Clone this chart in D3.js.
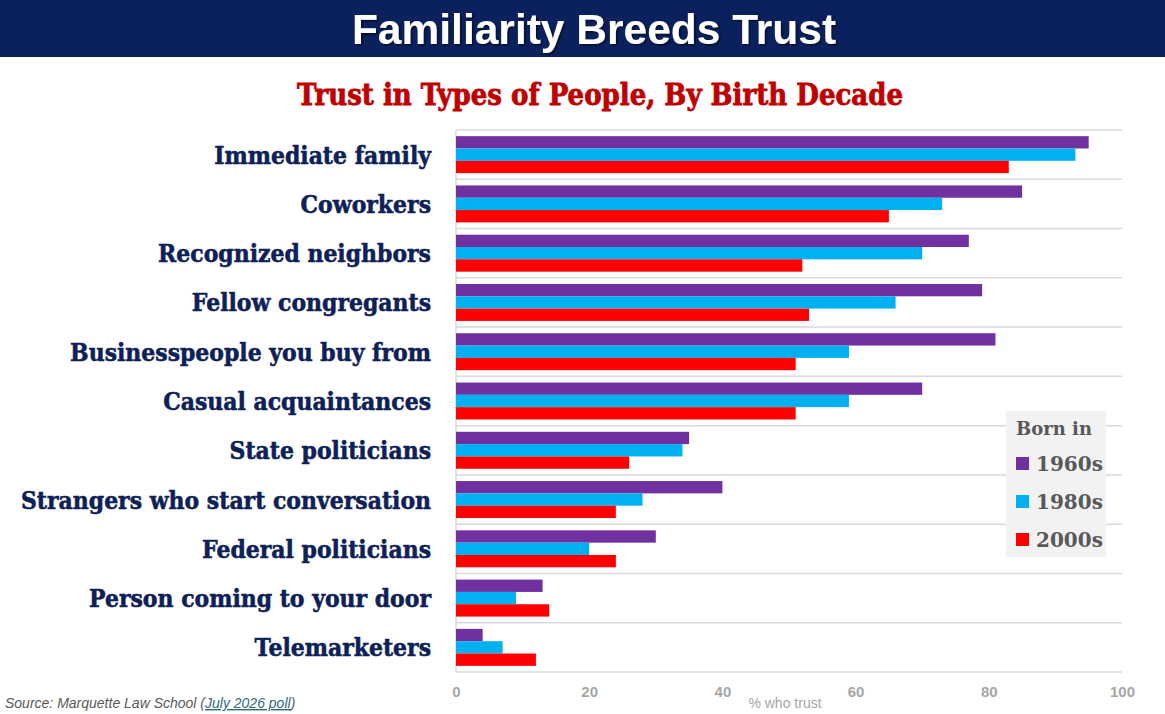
<!DOCTYPE html>
<html>
<head>
<meta charset="utf-8">
<script src="https://cdn.jsdelivr.net/npm/d3@7"></script>
<style>
  body { margin: 0; background: #fff; }
  svg { display: block; }
  .cat { font-family: "DejaVu Serif", serif; font-weight: bold; fill: #0d2158; stroke: #0d2158; stroke-width: 0.6px; }
  .xaxis text { font-family: "Liberation Sans Narrow", "Liberation Sans", sans-serif; font-weight: bold; fill: #a6a6a6; font-size: 15px; }
</style>
</head>
<body>
<svg id="chart"></svg>
<script>
// data
var categories = ["Immediate family", "Coworkers", "Recognized neighbors", "Fellow congregants",
  "Businesspeople you buy from", "Casual acquaintances", "State politicians",
  "Strangers who start conversation", "Federal politicians", "Person coming to your door", "Telemarketers"];
var seriesNames = ["1960s", "1980s", "2000s"];
var born1960s = [95, 85, 77, 79, 81, 70, 35, 40, 30, 13, 4];
var born1980s = [93, 73, 70, 66, 59, 59, 34, 28, 20, 9, 7];
var born2000s = [83, 65, 52, 53, 51, 51, 26, 24, 24, 14, 12];
var tickValues = [0, 20, 40, 60, 80, 100];
var colors = ["#7030a0", "#00b0f0", "#ff0000"];

var W = 1165, H = 714;
var margin = {top: 130, right: 43, bottom: 42, left: 456},
    width = W - margin.left - margin.right,
    height = H - margin.top - margin.bottom;

var svg = d3.select("#chart").attr("width", W).attr("height", H);

// header band
svg.append("rect").attr("x", 0).attr("y", 0).attr("width", W).attr("height", 57).attr("fill", "#0b215e");
var defs = svg.append("defs");
var f = defs.append("filter").attr("id", "shadow").attr("x", "-5%").attr("y", "-20%").attr("width", "110%").attr("height", "140%");
f.append("feDropShadow").attr("dx", 1.5).attr("dy", 1.5).attr("stdDeviation", 1).attr("flood-color", "#000").attr("flood-opacity", 0.6);

svg.append("text")
    .attr("x", 594).attr("y", 44)
    .attr("text-anchor", "middle")
    .attr("filter", "url(#shadow)")
    .style("font-family", "'Liberation Sans', Arial, sans-serif")
    .style("font-weight", "bold")
    .style("font-size", "42.5px")
    .style("fill", "#fff")
    .text("Familiarity Breeds Trust");

svg.append("text")
    .attr("x", 600).attr("y", 105)
    .attr("text-anchor", "middle")
    .attr("textLength", 606).attr("lengthAdjust", "spacingAndGlyphs")
    .style("font-family", "'DejaVu Serif', serif")
    .style("font-weight", "bold")
    .style("font-size", "29px")
    .style("fill", "#c00000")
    .style("stroke", "#c00000")
    .style("stroke-width", "0.8px")
    .text("Trust in Types of People, By Birth Decade");

var g = svg.append("g").attr("transform", "translate(" + margin.left + "," + margin.top + ")");

var x = d3.scaleLinear().domain([0, 100]).range([0, width]);
var y = d3.scaleBand().domain(categories).range([0, height]).padding(0);
var ySub = d3.scaleBand().domain(seriesNames).range([0, y.bandwidth()]).paddingInner(0).paddingOuter(0.5);

// gridlines at category boundaries
var bounds = categories.map(function(d) { return y(d); }).concat([height]);
g.selectAll(".grid").data(bounds).enter().append("line")
    .attr("x1", 0).attr("x2", width)
    .attr("y1", function(d) { return d; }).attr("y2", function(d) { return d; })
    .attr("stroke", "#d9d9d9").attr("stroke-width", 1.5);

g.append("line").attr("x1", 0).attr("x2", 0).attr("y1", 0).attr("y2", height)
    .attr("stroke", "#d9d9d9").attr("stroke-width", 1.5);

var series = [born1960s, born1980s, born2000s];
var rows = [];
categories.forEach(function(c, i) {
  series.forEach(function(s, j) {
    rows.push({cat: c, name: seriesNames[j], value: s[i], color: colors[j]});
  });
});

g.selectAll(".bar").data(rows).enter().append("rect")
    .attr("class", "bar")
    .attr("x", x(0))
    .attr("y", function(d) { return y(d.cat) + ySub(d.name); })
    .attr("width", function(d) { return x(d.value) - x(0); })
    .attr("height", ySub.bandwidth())
    .attr("fill", function(d) { return d.color; });

// category labels, squeezed a little to look like a condensed slab face
var labels = g.selectAll(".cat").data(categories).enter().append("text")
    .attr("class", "cat")
    .attr("x", -25)
    .attr("y", function(d) { return y(d) + y.bandwidth() / 2; })
    .attr("dy", "0.36em")
    .attr("text-anchor", "end")
    .style("font-size", "25px")
    .text(function(d) { return d; });
var longest = d3.max(labels.nodes(), function(n) { return n.getComputedTextLength(); });
var squeeze = 410 / longest;
labels.each(function() {
  d3.select(this)
    .attr("textLength", this.getComputedTextLength() * squeeze)
    .attr("lengthAdjust", "spacingAndGlyphs");
});

// x axis
var xAxis = d3.axisBottom(x).tickValues(tickValues).tickSize(0).tickPadding(14);
var ax = g.append("g").attr("class", "xaxis").attr("transform", "translate(0," + height + ")").call(xAxis);
ax.select(".domain").remove();

svg.append("text")
    .attr("x", 785).attr("y", 708)
    .attr("text-anchor", "middle")
    .style("font-family", "'Liberation Sans Narrow', 'Liberation Sans', sans-serif")
    .style("font-size", "14px")
    .style("fill", "#a6a6a6")
    .text("% who trust");

// source
var src = svg.append("text")
    .attr("x", 5).attr("y", 708)
    .style("font-family", "'Liberation Sans Narrow', 'Liberation Sans', sans-serif")
    .style("font-style", "italic")
    .style("font-size", "14px")
    .style("fill", "#595959");
src.append("tspan").text("Source: Marquette Law School (");
src.append("tspan").style("fill", "#2e6b7a").style("text-decoration", "underline").text("July 2026 poll");
src.append("tspan").text(")");

// legend
var lg = svg.append("g").attr("transform", "translate(1006,411)");
lg.append("rect").attr("width", 100).attr("height", 146).attr("fill", "#f2f2f2");
lg.append("text").attr("x", 48).attr("y", 24).attr("text-anchor", "middle")
    .style("font-family", "'DejaVu Serif', serif")
    .style("font-weight", "bold").style("font-size", "18px").style("fill", "#595959")
    .text("Born in");
var items = lg.selectAll(".item").data(seriesNames).enter().append("g")
    .attr("transform", function(d, i) { return "translate(10," + (46 + i * 38) + ")"; });
items.append("rect").attr("width", 13).attr("height", 13)
    .attr("fill", function(d, i) { return colors[i]; });
items.append("text").attr("x", 20).attr("y", 14)
    .style("font-family", "'DejaVu Serif', serif").style("font-weight", "bold")
    .style("font-size", "20px").style("fill", "#595959")
    .text(function(d) { return d; });
</script>
</body>
</html>
